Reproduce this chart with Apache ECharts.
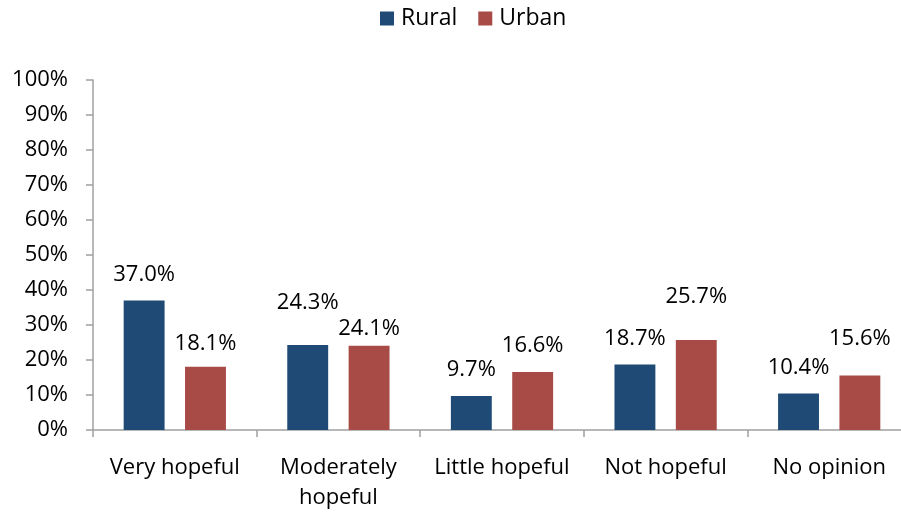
<!DOCTYPE html>
<html>
<head>
<meta charset="utf-8">
<script src="https://cdn.jsdelivr.net/npm/echarts@6/dist/echarts.min.js"></script>
<style>
    html, body { margin: 0; padding: 0; background: #fff; }
    #chart-box { width: 901px; height: 512px; }
</style>
</head>
<body>
<div id="chart-box"></div>
<script>
// 資料
var categories = ['Very hopeful', 'Moderately\nhopeful', 'Little hopeful', 'Not hopeful', 'No opinion'];
var ruralValues = [37.0, 24.3, 9.7, 18.7, 10.4];
var urbanValues = [18.1, 24.1, 16.6, 25.7, 15.6];
var yTicks = { min: 0, max: 100, interval: 10 };

// 標籤避免重疊的位移 (px，負數往上)
var ruralLabelShift = { 1: -16 };
var urbanLabelShift = { 0: 3, 1: 9, 3: -17, 4: -11 };

hopeChart();

function buildData(values, shift) {
    return values.map(function (v, i) {
        var item = { value: v };
        if (shift[i]) {
            item.label = { offset: [0, shift[i]] };
        }
        return item;
    });
}

function hopeChart() {
    var chartDom = document.getElementById('chart-box');
    var myChart = echarts.init(chartDom);
    var option;
    var fontFamily = '"Open Sans", "Noto Sans", sans-serif';

    var labelStyle = {
        show: true,
        position: 'top',
        distance: 15,
        fontSize: 22,
        color: '#000',
        fontFamily: fontFamily,
        formatter: function (p) { return p.value.toFixed(1) + '%'; }
    };

    option = {
        animation: false,
        color: ['#1f4a75', '#a84b47'],
        textStyle: { fontFamily: fontFamily },
        legend: {
            top: 2,
            left: 375,
            itemGap: 21,
            itemWidth: 14,
            itemHeight: 14,
            icon: 'rect',
            textStyle: { color: '#000', fontSize: 23, fontFamily: fontFamily, padding: [0, 0, 0, 2] }
        },
        grid: {
            left: 93,
            top: 80,
            bottom: 82,
            width: 818, // 最後一格超出畫面
            outerBoundsMode: 'none'
        },
        xAxis: {
            type: 'category',
            data: categories,
            boundaryGap: true,
            axisLine: { lineStyle: { color: '#a0a0a0', width: 1.5 } },
            axisTick: { show: true, length: 7, lineStyle: { color: '#a0a0a0', width: 1.5 } },
            axisLabel: {
                color: '#000',
                fontSize: 22,
                lineHeight: 30,
                margin: 23,
                interval: 0,
                fontFamily: fontFamily
            }
        },
        yAxis: {
            type: 'value',
            min: yTicks.min,
            max: yTicks.max,
            interval: yTicks.interval,
            axisLine: { show: true, lineStyle: { color: '#a0a0a0', width: 1.5 } },
            axisTick: { show: true, length: 7, lineStyle: { color: '#a0a0a0', width: 1.5 } },
            splitLine: { show: false },
            axisLabel: {
                color: '#000',
                fontSize: 22,
                margin: 25,
                formatter: '{value}%',
                fontFamily: fontFamily
            }
        },
        series: [
            {
                name: 'Rural',
                type: 'bar',
                data: buildData(ruralValues, ruralLabelShift),
                barWidth: '25%',
                barGap: '50%',
                label: labelStyle
            },
            {
                name: 'Urban',
                type: 'bar',
                data: buildData(urbanValues, urbanLabelShift),
                barWidth: '25%',
                label: labelStyle
            }
        ]
    };

    option && myChart.setOption(option);
}
</script>
</body>
</html>
